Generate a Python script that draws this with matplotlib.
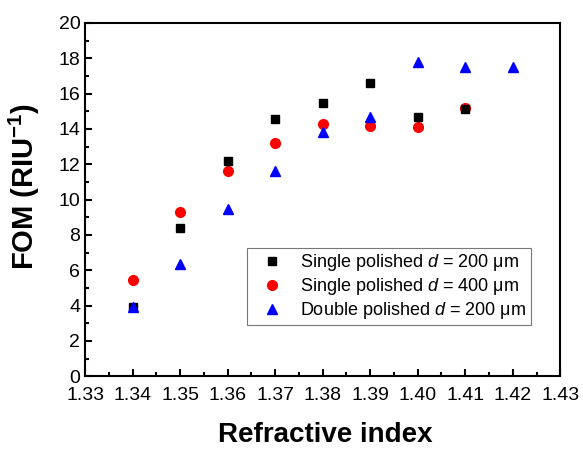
import matplotlib as mpl
mpl.use("Agg")
import matplotlib.pyplot as plt
from matplotlib.ticker import MultipleLocator

mpl.rcParams['font.family'] = 'Liberation Sans'
mpl.rcParams['mathtext.fontset'] = 'custom'
mpl.rcParams['mathtext.rm'] = 'Liberation Sans'
mpl.rcParams['mathtext.it'] = 'Liberation Sans:italic'
mpl.rcParams['mathtext.bf'] = 'Liberation Sans:bold'

# refractive index of each sample
ri_single200 = [1.34, 1.35, 1.36, 1.37, 1.38, 1.39, 1.40, 1.41]
fom_single200 = [3.93, 8.37, 12.2, 14.55, 15.45, 16.58, 14.69, 15.15]

ri_single400 = [1.34, 1.35, 1.36, 1.37, 1.38, 1.39, 1.40, 1.41]
fom_single400 = [5.42, 9.29, 11.63, 13.22, 14.28, 14.18, 14.12, 15.18]

ri_double200 = [1.34, 1.35, 1.36, 1.37, 1.38, 1.39, 1.40, 1.41, 1.42]
fom_double200 = [3.93, 6.35, 9.46, 11.6, 13.8, 14.65, 17.81, 17.53, 17.53]

labels = ["Single polished $d$ = 200 \u03bcm",
          "Single polished $d$ = 400 \u03bcm",
          "Double polished $d$ = 200 \u03bcm"]

xticks = [1.33, 1.34, 1.35, 1.36, 1.37, 1.38, 1.39, 1.40, 1.41, 1.42, 1.43]

fig = plt.figure(figsize=(5.83, 4.5), dpi=100)
ax = fig.add_axes([0.146, 0.164, 0.815, 0.785])

ax.plot(ri_single200, fom_single200, 's', color='black', markersize=6,
        label=labels[0], zorder=3)
ax.plot(ri_single400, fom_single400, 'o', color='red', markersize=7,
        label=labels[1], zorder=2)
ax.plot(ri_double200, fom_double200, '^', color='blue', markersize=7.5,
        label=labels[2], zorder=4)

ax.set_xlim(1.33, 1.43)
ax.set_ylim(0, 20)
ax.set_xticks(xticks)
ax.set_xticklabels(["%.2f" % t for t in xticks])
ax.xaxis.set_minor_locator(MultipleLocator(0.005))
ax.yaxis.set_major_locator(MultipleLocator(2))
ax.yaxis.set_minor_locator(MultipleLocator(1))

ax.tick_params(which='both', direction='in', top=False, right=False,
               width=1.5, labelsize=14)
ax.tick_params(axis='x', pad=8)
ax.tick_params(which='major', length=5)
ax.tick_params(which='minor', length=3)
for sp in ax.spines.values():
    sp.set_linewidth(1.5)

ax.set_xlabel("Refractive index", fontsize=20, fontweight='bold')
ax.set_ylabel(r"FOM (RIU$^{\mathbf{-1}}$)", fontsize=21, fontweight='bold')
ax.xaxis.set_label_coords(0.505, -0.13)
ax.yaxis.set_label_coords(-0.09, 0.537)

leg = ax.legend(loc='upper left', bbox_to_anchor=(0.341, 0.363),
                borderaxespad=0, fontsize=13, frameon=True, fancybox=False,
                handletextpad=0.4, borderpad=0.25, labelspacing=0.15,
                handlelength=2.3)
leg.get_frame().set_edgecolor('#555555')
leg.get_frame().set_linewidth(0.8)

fig.savefig("out.png", dpi=100)
